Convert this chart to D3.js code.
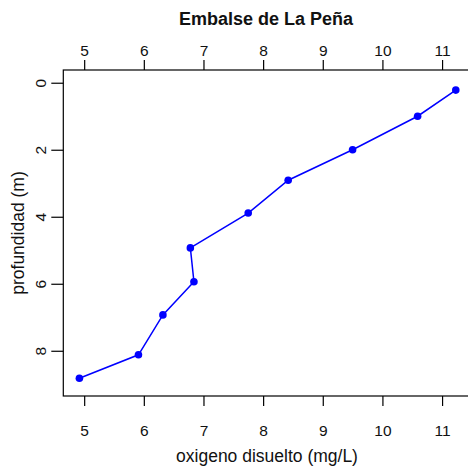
<!DOCTYPE html>
<html>
<head>
<meta charset="utf-8">
<script src="https://cdn.jsdelivr.net/npm/d3@7"></script>
<style>
html,body{margin:0;padding:0;background:#fff;}
svg{display:block;}
text{font-family:"Liberation Sans",Arial,sans-serif;fill:#111;}
</style>
</head>
<body>
<svg id="chart" width="468" height="470"></svg>
<script>
const oxygen = [11.23, 10.59, 9.50, 8.42, 7.75, 6.78, 6.84, 6.32, 5.91, 4.92];
const depth  = [0.22, 1.0, 2.0, 2.91, 3.89, 4.93, 5.94, 6.93, 8.12, 8.82];
const xTicks = [5, 6, 7, 8, 9, 10, 11];
const yTicks = [0, 2, 4, 6, 8];
const title = "Embalse de La Peña";
const xTitle = "oxigeno disuelto (mg/L)";
const yTitle = "profundidad (m)";

(function () {
const data = oxygen.map((o, i) => ({x: o, y: depth[i]}));
const svg = d3.select("#chart");
const L = 63.3, R = 470.7, T = 70, B = 396;

const x = d3.scaleLinear().domain([4.65, 11.48]).range([L, R]);
const y = d3.scaleLinear().domain([-0.38, 9.35]).range([T, B]);

svg.append("rect").attr("x", L).attr("y", T).attr("width", R - L).attr("height", B - T)
  .attr("fill", "none").attr("stroke", "#000").attr("stroke-width", 1.2);

const fs = 15.5;
const gTop = svg.append("g").attr("transform", `translate(0,${T})`)
  .call(d3.axisTop(x).tickValues(xTicks).tickFormat(d3.format("d")).tickSize(10).tickPadding(4));
const gBot = svg.append("g").attr("transform", `translate(0,${B})`)
  .call(d3.axisBottom(x).tickValues(xTicks).tickFormat(d3.format("d")).tickSize(10).tickPadding(19));
const gLeft = svg.append("g").attr("transform", `translate(${L},0)`)
  .call(d3.axisLeft(y).tickValues(yTicks).tickFormat(d3.format("d")).tickSize(12).tickPadding(5));
[gTop, gBot, gLeft].forEach(g => {
  g.select(".domain").remove();
  g.selectAll(".tick line").attr("stroke", "#000").attr("stroke-width", 1.2);
  g.selectAll(".tick text").attr("font-size", fs).attr("font-family", "Liberation Sans, Arial, sans-serif").attr("fill", "#111");
});
gLeft.selectAll(".tick text")
  .attr("x", null).attr("dy", "0")
  .attr("text-anchor", "middle")
  .attr("transform", "translate(-17,0) rotate(-90)");

svg.append("path").datum(data)
  .attr("fill", "none").attr("stroke", "#0000FF").attr("stroke-width", 1.5)
  .attr("d", d3.line().x(d => x(d.x)).y(d => y(d.y)));
svg.selectAll("circle.pt").data(data).enter().append("circle")
  .attr("class", "pt")
  .attr("cx", d => x(d.x)).attr("cy", d => y(d.y)).attr("r", 3.8)
  .attr("fill", "#0000FF");

svg.append("text").attr("x", (L + R) / 2 - 1).attr("y", 25)
  .attr("text-anchor", "middle").attr("font-size", 18).attr("font-weight", "bold").text(title);
svg.append("text").attr("x", (L + R) / 2).attr("y", 462)
  .attr("text-anchor", "middle").attr("font-size", 17.5).text(xTitle);
svg.append("text").attr("transform", `translate(24,${(T + B) / 2}) rotate(-90)`)
  .attr("text-anchor", "middle").attr("font-size", 17.5).text(yTitle);
})();
</script>
</body>
</html>
